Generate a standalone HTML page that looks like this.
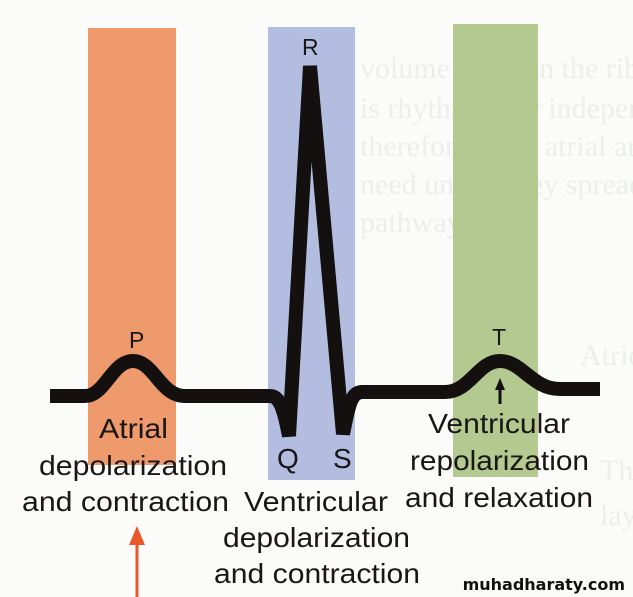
<!DOCTYPE html>
<html><head><meta charset="utf-8"><style>
body{margin:0;width:633px;height:597px;overflow:hidden;background:#fbfcfa;}
svg{display:block}
</style></head><body>
<svg width="633" height="597" viewBox="0 0 633 597" xmlns="http://www.w3.org/2000/svg">
<g font-family="Liberation Serif, serif" font-size="30" fill="#eceeec">
<text x="360" y="78">volume is not in the rib pulse.</text>
<text x="360" y="118">is rhythmically independent atrial</text>
<text x="360" y="156">therefore these atrial arrhythmias</text>
<text x="360" y="194">need unless they spread to the</text>
<text x="360" y="232">pathways.</text>
<text x="580" y="365">Atrioventricular</text>
<text x="600" y="480">The</text>
<text x="600" y="525">layed</text>
</g>
<rect x="88" y="28" width="88" height="437" fill="#ef9a6c"/>
<rect x="268" y="27" width="87" height="453" fill="#b3bde0"/>
<rect x="453" y="24" width="85" height="453" fill="#b3c98f"/>
<path d="M50,396 L85,396 C105,396 112,361 133,361 C154,361 160,396 185,396 L270,396 C280,396 284,410 289,436 L310,66 L343,434 C348,410 350,392 362,392 L445,392 C470,392 478,361 500,361 C522,361 532,389 560,389 L600,389" fill="none" stroke="#141010" stroke-width="14" stroke-linejoin="miter" stroke-miterlimit="4"/>
<path d="M500,378 L495,390 L498.5,390 L498.5,404 L501.5,404 L501.5,390 L505,390 Z" fill="#141010"/>
<line x1="137" y1="597" x2="137" y2="540" stroke="#e85a2a" stroke-width="3"/>
<path d="M137,526 L129,545 L145,545 Z" fill="#e85a2a"/>
<g font-family="Liberation Sans, sans-serif" font-size="28" fill="#1a1616">
<text x="129" y="348" font-size="23">P</text>
<text x="302" y="55" font-size="23">R</text>
<text x="492" y="345" font-size="23">T</text>
<text x="277" y="468">Q</text>
<text x="333" y="468">S</text>
<text x="99" y="438" textLength="69" lengthAdjust="spacingAndGlyphs">Atrial</text>
<text x="39" y="475" textLength="188" lengthAdjust="spacingAndGlyphs">depolarization</text>
<text x="22" y="511" textLength="207" lengthAdjust="spacingAndGlyphs">and contraction</text>
<text x="244" y="511" textLength="144" lengthAdjust="spacingAndGlyphs">Ventricular</text>
<text x="223" y="547" textLength="187" lengthAdjust="spacingAndGlyphs">depolarization</text>
<text x="214" y="583" textLength="206" lengthAdjust="spacingAndGlyphs">and contraction</text>
<text x="428" y="433" textLength="142" lengthAdjust="spacingAndGlyphs">Ventricular</text>
<text x="410" y="470" textLength="179" lengthAdjust="spacingAndGlyphs">repolarization</text>
<text x="405" y="507" textLength="188" lengthAdjust="spacingAndGlyphs">and relaxation</text>
</g>
<text x="625" y="590" text-anchor="end" font-family="DejaVu Sans, sans-serif" font-weight="bold" font-size="16" fill="#111">muhadharaty.com</text>
</svg>
</body></html>
